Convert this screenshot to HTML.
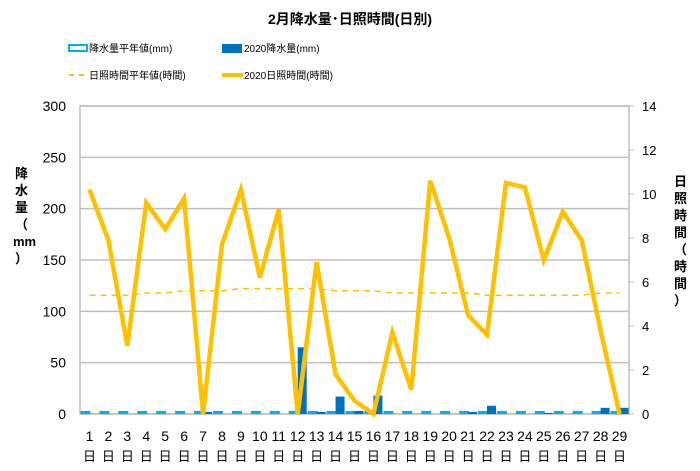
<!DOCTYPE html>
<html><head><meta charset="utf-8"><style>
body{margin:0;background:#fff;font-family:"Liberation Sans","Noto Sans CJK JP",sans-serif;}
svg text{font-family:"Liberation Sans","Noto Sans CJK JP",sans-serif;}
</style></head><body>
<svg id="c" width="700" height="466" viewBox="0 0 700 466">
<rect width="700" height="466" fill="#fff"/>
<text x="350" y="24" text-anchor="middle" font-size="14" font-weight="bold">2月降水量･日照時間(日別)</text>
<g>
<rect x="69" y="45" width="18" height="6" fill="#fff" stroke="#00b0f0" stroke-width="2"/>
<text x="89" y="52" font-size="10">降水量平年値(mm)</text>
<rect x="222" y="44" width="20" height="9" fill="#0070c0"/>
<text x="244" y="52" font-size="10">2020降水量(mm)</text>
<line x1="69" y1="75" x2="88" y2="75" stroke="#ffc000" stroke-width="2" stroke-dasharray="5,5"/>
<text x="89" y="79" font-size="10">日照時間平年値(時間)</text>
<line x1="222" y1="75" x2="243" y2="75" stroke="#ffc000" stroke-width="4"/>
<text x="244" y="79" font-size="10">2020日照時間(時間)</text>
</g>
<g id="grid"></g><g id="bars"></g><g id="lines"></g><g id="axes"></g>
<text x="22" y="178" font-size="13" font-weight="bold"><tspan x="15" dy="0">降</tspan><tspan x="15" dy="17">水</tspan><tspan x="15" dy="17">量</tspan><tspan x="15" dy="17">（</tspan><tspan x="13" dy="17">mm</tspan><tspan x="15" dy="17">）</tspan></text>
<text font-size="13" font-weight="bold"><tspan x="674" y="186">日</tspan><tspan x="674" dy="17">照</tspan><tspan x="674" dy="17">時</tspan><tspan x="674" dy="17">間</tspan><tspan x="674" dy="17">（</tspan><tspan x="674" dy="17">時</tspan><tspan x="674" dy="17">間</tspan><tspan x="674" dy="17">）</tspan></text>
</svg>
<script>
const days=[1,2,3,4,5,6,7,8,9,10,11,12,13,14,15,16,17,18,19,20,21,22,23,24,25,26,27,28,29];
const rainAvg=[3,3,3,3,3,3,3,3,3,3,3,3,3,3,3,3,3,3,3,3,3,3,3,3,3,3,3,3,3];
const rain2020=[0,0,0,0,0,0,2,0,0,0,0,65,2,17,3,18,0,0,0,0,2,8,0,0,1,0,0,6,6];
const sunAvg=[5.4,5.4,5.4,5.5,5.5,5.6,5.6,5.6,5.7,5.7,5.7,5.7,5.7,5.6,5.6,5.6,5.5,5.5,5.5,5.5,5.5,5.4,5.4,5.4,5.4,5.4,5.4,5.5,5.5];
const sun2020=[10.2,7.9,3.1,9.6,8.4,9.8,0,7.7,10.2,6.2,9.3,0,6.9,1.8,0.6,0,3.7,1.1,10.6,8.0,4.5,3.6,10.5,10.3,7.0,9.2,7.9,3.8,0];
const leftTicks=[0,50,100,150,200,250,300];
const rightTicks=[0,2,4,6,8,10,12,14];
const L=80,R=629,T=106,B=414;
const NS="http://www.w3.org/2000/svg";
const bw=(R-L)/days.length;
const xc=i=>L+bw*(i+0.5);
const yL=v=>B-(v/300)*(B-T);
const yR=v=>B-(v/14)*(B-T);
function mk(p,t,a){const e=document.createElementNS(NS,t);for(const k in a)e.setAttribute(k,a[k]);document.getElementById(p).appendChild(e);return e;}
leftTicks.forEach(v=>{
 const g=mk('grid','line',{x1:L,x2:R,y1:yL(v),y2:yL(v),stroke:'#bfbfbf','stroke-width':1.5});
 
 
 const t=mk('axes','text',{x:L-14,y:yL(v)+5,'text-anchor':'end','font-size':14});
 t.textContent=v;
 
 
});
rightTicks.forEach(v=>{
 const t=mk('axes','text',{x:R+13,y:yR(v)+5,'font-size':13});
 t.textContent=v;
 
 
 const k=mk('axes','line',{x1:R,x2:R+5,y1:yR(v),y2:yR(v),stroke:'#bfbfbf'});
 
 
});
const fr=mk('grid','rect',{x:L,y:T,width:R-L,height:B-T,fill:'none',stroke:'#bfbfbf','stroke-width':1.5});


days.forEach((d,i)=>{
 const a=mk('bars','rect',{x:xc(i)-8,y:yL(rainAvg[i])+1,width:8,height:Math.max(0,B-yL(rainAvg[i])-2),fill:'#fff',stroke:'#00b0f0','stroke-width':2});
 
 
 if(rain2020[i]>0){
  const b=mk('bars','rect',{x:xc(i),y:yL(rain2020[i]),width:9,height:B-yL(rain2020[i]),fill:'#0070c0'});
  
  
 }
 const t=mk('axes','text',{x:xc(i),y:441,'text-anchor':'middle','font-size':14});
 t.textContent=d;
 
 
 const t2=mk('axes','text',{x:xc(i),y:461,'text-anchor':'middle','font-size':13});
 t2.textContent='日';
 
 
});
const pa=mk('lines','polyline',{points:sunAvg.map((v,i)=>xc(i)+','+yR(v)).join(' '),fill:'none',stroke:'#ffc000','stroke-width':1.5,'stroke-dasharray':'6,5'});


const ps=mk('lines','polyline',{points:sun2020.map((v,i)=>xc(i)+','+yR(v)).join(' '),fill:'none',stroke:'#ffc000','stroke-width':4.5,'stroke-linejoin':'miter'});


</script>
</body></html>
